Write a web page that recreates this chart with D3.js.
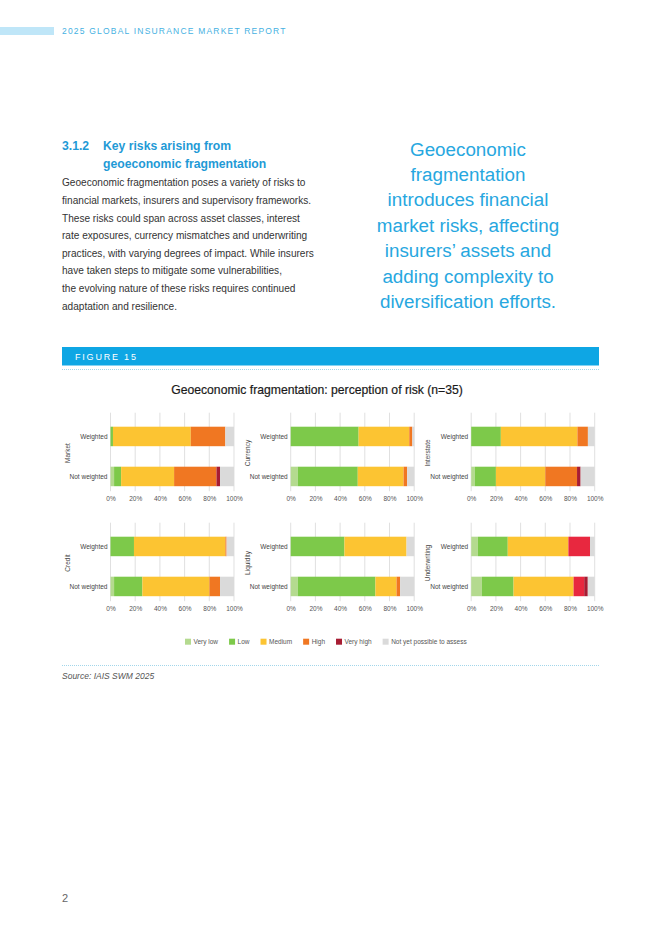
<!DOCTYPE html>
<html><head><meta charset="utf-8">
<script src="https://cdn.jsdelivr.net/npm/d3@7/dist/d3.min.js"></script>
<style>
body{margin:0;background:#fff}
svg{display:block}
text{font-family:"Liberation Sans",Arial,Helvetica,sans-serif}
</style>
</head><body>
<svg id="c" width="662" height="936"></svg>
<script>
// ---------- DATA ----------
const categories = ["Very low", "Low", "Medium", "High", "Very high", "Not yet possible to assess"];
const panelNames = ["Market", "Currency", "Interstate", "Credit", "Liquidity", "Underwriting"];
const barLabels = ["Weighted", "Not weighted"];
// percentages per category, one row per panel
const weightedValues = [
  [0, 2, 63, 28, 0, 7],
  [0, 55, 41, 2.5, 0, 1.5],
  [0, 24, 62, 8.5, 0, 5.5],
  [0, 19, 74, 1, 0, 6],
  [0, 43.5, 50.3, 0, 0, 6.2],
  [5.4, 24.2, 49.1, 17.5, 0, 3.8]
];
const notWeightedValues = [
  [2.9, 5.7, 42.9, 34.3, 2.9, 11.4],
  [5.7, 48.6, 37.1, 2.9, 0, 5.7],
  [2.9, 17.1, 40.0, 25.7, 2.9, 11.4],
  [2.9, 22.9, 54.3, 8.6, 0, 11.4],
  [5.7, 62.9, 17.1, 2.9, 0, 11.4],
  [8.6, 25.7, 48.6, 8.6, 2.9, 5.7]
];
const tickValues = [0, 20, 40, 60, 80, 100];
const bodyLines = [
  "Geoeconomic fragmentation poses a variety of risks to",
  "financial markets, insurers and supervisory frameworks.",
  "These risks could span across asset classes, interest",
  "rate exposures, currency mismatches and underwriting",
  "practices, with varying degrees of impact. While insurers",
  "have taken steps to mitigate some vulnerabilities,",
  "the evolving nature of these risks requires continued",
  "adaptation and resilience."
];
const calloutLines = [
  "Geoeconomic", "fragmentation", "introduces financial", "market risks, affecting",
  "insurers\u2019 assets and", "adding complexity to", "diversification efforts."
];

// ---------- STYLE ----------
const colors = ["#b4da8f", "#7dc94a", "#fcc432", "#f07722", "#a71d33", "#dadada"];
const panelColorOverride = { "Underwriting": { 3: "#e8283f" } };

const svg = d3.select("#c");

// header
svg.append("rect").attr("x", 0).attr("y", 27).attr("width", 54).attr("height", 8).attr("fill", "#bfe6f8");
svg.append("text").attr("x", 62).attr("y", 34.3).attr("font-size", 8.5).attr("letter-spacing", 1.2)
  .attr("fill", "#45b1e2").text("2025 GLOBAL INSURANCE MARKET REPORT");

// section heading
const hs = 12.2;
svg.append("text").attr("x", 62).attr("y", 150).attr("font-size", hs).attr("font-weight", "bold")
  .attr("fill", "#1f9ad6").text("3.1.2");
svg.append("text").attr("x", 103).attr("y", 150).attr("font-size", hs).attr("font-weight", "bold")
  .attr("fill", "#1f9ad6").text("Key risks arising from");
svg.append("text").attr("x", 103).attr("y", 168).attr("font-size", hs).attr("font-weight", "bold")
  .attr("fill", "#1f9ad6").text("geoeconomic fragmentation");

svg.append("g").selectAll("text").data(bodyLines).join("text")
  .attr("x", 62).attr("y", (d, i) => 186.3 + i * 17.6)
  .attr("font-size", 10.1).attr("fill", "#333").text(d => d);

svg.append("g").selectAll("text").data(calloutLines).join("text")
  .attr("x", 468).attr("y", (d, i) => 155.5 + i * 25.4)
  .attr("text-anchor", "middle").attr("font-size", 18.8).attr("fill", "#27a7e0").text(d => d);

// figure bar
svg.append("rect").attr("x", 62).attr("y", 347).attr("width", 537).attr("height", 18.5).attr("fill", "#0ea6e4");
svg.append("text").attr("x", 75).attr("y", 359.5).attr("font-size", 9).attr("letter-spacing", 1.8)
  .attr("fill", "#fff").text("FIGURE 15");
svg.append("line").attr("x1", 62).attr("x2", 599).attr("y1", 369.5).attr("y2", 369.5)
  .attr("stroke", "#8ccbe4").attr("stroke-width", 0.8).attr("stroke-dasharray", "1,1");

svg.append("text").attr("x", 317).attr("y", 394).attr("text-anchor", "middle").attr("font-size", 12.2)
  .attr("fill", "#1a1a1a").attr("stroke", "#1a1a1a").attr("stroke-width", 0.2)
  .text("Geoeconomic fragmentation: perception of risk (n=35)");

// panels
const colX = [110.5, 290.7, 471.2];
const rowY = [417.7, 527.7];
const plotW = 123.5;
const plotH = 77.5;

const stack = d3.stack().keys(d3.range(categories.length)).value((d, k) => d.vals[k]);

panelNames.forEach((name, p) => {
  const x0 = colX[p % 3], y0 = rowY[Math.floor(p / 3)];
  const g = svg.append("g").attr("transform", `translate(${x0},${y0})`);
  const x = d3.scaleLinear().domain([0, 100]).range([0, plotW]);
  const y = d3.scaleBand().domain(barLabels).range([0, plotH]).paddingInner(0.5125).paddingOuter(0.225);
  const gridTop = -5, gridBottom = y("Not weighted") + y.bandwidth() + 5;

  g.append("g").selectAll("line").data(tickValues).join("line")
    .attr("x1", d => x(d)).attr("x2", d => x(d)).attr("y1", gridTop).attr("y2", gridBottom)
    .attr("stroke", "#d2d2d2").attr("stroke-width", 0.7);

  const rows = [
    { label: "Weighted", vals: weightedValues[p] },
    { label: "Not weighted", vals: notWeightedValues[p] }
  ];
  const series = stack(rows);
  const ov = panelColorOverride[name] || {};
  g.append("g").selectAll("g").data(series).join("g")
    .attr("fill", s => ov[s.key] || colors[s.key])
    .selectAll("rect").data(s => s).join("rect")
    .attr("x", d => x(d[0])).attr("width", d => Math.max(0, x(Math.min(100, d[1])) - x(d[0])))
    .attr("y", d => y(d.data.label)).attr("height", y.bandwidth());

  const axis = d3.axisBottom(x).tickValues(tickValues).tickFormat(d => d + "%").tickSize(0).tickPadding(0);
  const ax = g.append("g").attr("transform", `translate(0,${y("Not weighted") + y.bandwidth() + 14.5})`).call(axis);
  ax.select(".domain").remove();
  ax.selectAll("text").attr("font-size", 6.5).attr("fill", "#555").attr("dy", 0)
    .attr("font-family", '"Liberation Sans",Arial,sans-serif');

  const ay = d3.axisLeft(y).tickSize(0).tickPadding(3);
  const ayg = g.append("g").call(ay);
  ayg.select(".domain").remove();
  ayg.selectAll("text").attr("font-size", 6.5).attr("fill", "#444")
    .attr("font-family", '"Liberation Sans",Arial,sans-serif');

  g.append("text").attr("transform", `translate(-43,35.3) rotate(-90)`).attr("text-anchor", "middle")
    .attr("dy", "0.35em").attr("font-size", 6.5).attr("fill", "#444").text(name);
});

// legend
const leg = svg.append("g").attr("transform", "translate(185,641.7)");
let lx = 0;
categories.forEach((c, i) => {
  const it = leg.append("g").attr("transform", `translate(${lx},0)`);
  it.append("rect").attr("x", 0).attr("y", -3).attr("width", 6).attr("height", 6).attr("fill", colors[i]);
  const t = it.append("text").attr("x", 8.5).attr("dy", "0.35em").attr("font-size", 6.5).attr("fill", "#555").text(c);
  lx += 8.5 + t.node().getComputedTextLength() + 11;
});

// bottom dotted line & source
svg.append("line").attr("x1", 62).attr("x2", 599).attr("y1", 665.5).attr("y2", 665.5)
  .attr("stroke", "#8ccbe4").attr("stroke-width", 0.8).attr("stroke-dasharray", "1,1");
svg.append("text").attr("x", 62).attr("y", 679).attr("font-size", 8.5).attr("font-style", "italic")
  .attr("fill", "#555").text("Source: IAIS SWM 2025");

svg.append("text").attr("x", 62).attr("y", 902).attr("font-size", 11).attr("fill", "#666").text("2");
</script>
</body></html>
